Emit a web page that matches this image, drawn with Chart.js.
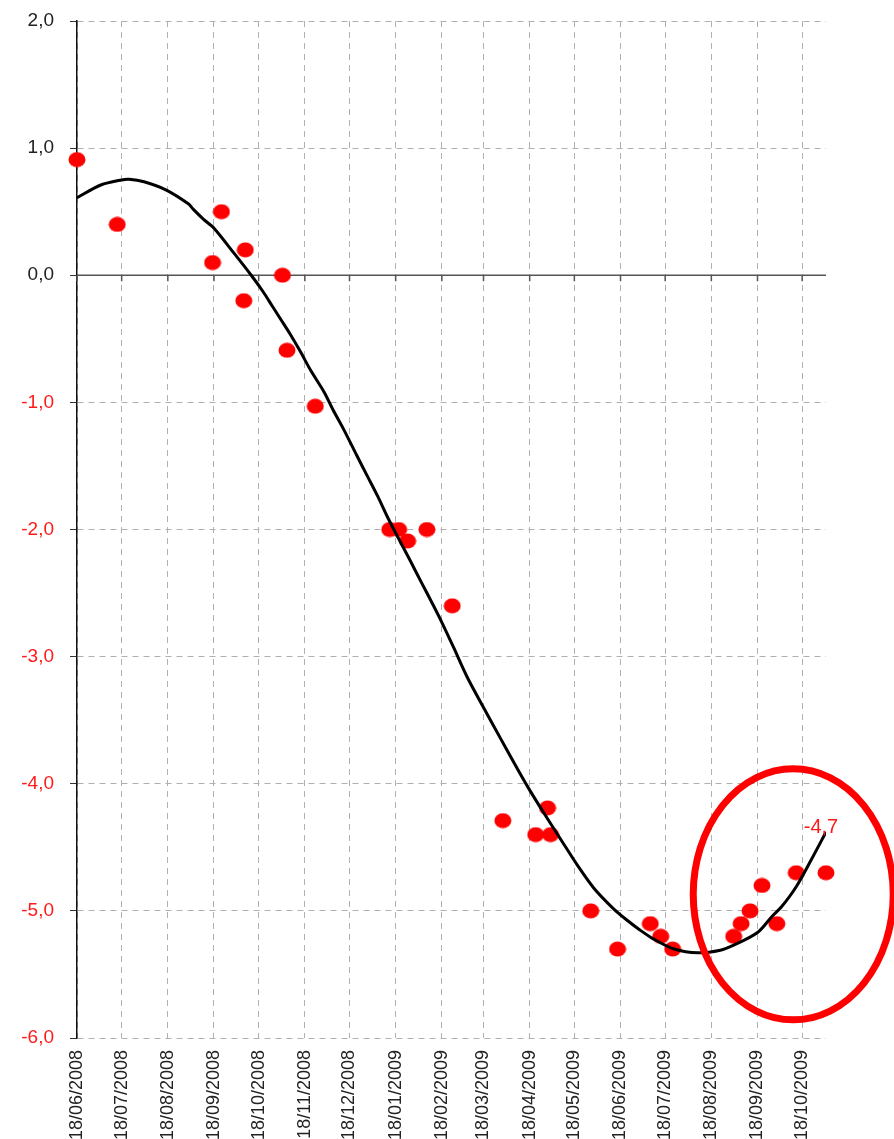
<!DOCTYPE html>
<html>
<head>
<meta charset="utf-8">
<script src="https://cdn.jsdelivr.net/npm/chart.js@4.4.1/dist/chart.umd.min.js"></script>
<style>
  html, body { margin: 0; padding: 0; background: #fff; overflow: hidden; }
  canvas { display: block; }
</style>
</head>
<body>
<canvas id="chart" width="894" height="1139"></canvas>
<script>
// tick labels on the date axis (18th of each month)
var tickLabels = ['18/06/2008', '18/07/2008', '18/08/2008', '18/09/2008', '18/10/2008', '18/11/2008',
    '18/12/2008', '18/01/2009', '18/02/2009', '18/03/2009', '18/04/2009', '18/05/2009',
    '18/06/2009', '18/07/2009', '18/08/2009', '18/09/2009', '18/10/2009'];

// red observations
var pointDates = ['18/06/2008', '15/07/2008', '17/09/2008', '23/09/2008', '08/10/2008', '09/10/2008',
    '03/11/2008', '06/11/2008', '25/11/2008', '14/01/2009', '20/01/2009', '26/01/2009',
    '08/02/2009', '25/02/2009', '31/03/2009', '22/04/2009', '30/04/2009', '02/05/2009',
    '29/05/2009', '16/06/2009', '08/07/2009', '15/07/2009', '23/07/2009', '02/09/2009',
    '07/09/2009', '13/09/2009', '21/09/2009', '01/10/2009', '14/10/2009', '03/11/2009'];
var pointValues = [0.91, 0.40, 0.10, 0.50, -0.20, 0.20,
    0.0, -0.59, -1.03, -2.0, -2.0, -2.09,
    -2.0, -2.6, -4.29, -4.4, -4.19, -4.4,
    -5.0, -5.3, -5.1, -5.2, -5.3, -5.2,
    -5.1, -5.0, -4.8, -5.1, -4.7, -4.7];

// black trend curve
var trendDates = ['18/06/2008', '04/07/2008', '18/07/2008', '23/07/2008', '02/08/2008', '17/08/2008',
    '01/09/2008', '04/09/2008', '11/09/2008', '18/09/2008', '01/10/2008', '13/10/2008',
    '21/10/2008', '27/10/2008', '02/11/2008', '08/11/2008', '15/11/2008', '22/11/2008',
    '01/12/2008', '07/12/2008', '14/12/2008', '23/12/2008', '30/12/2008', '06/01/2009',
    '12/01/2009', '19/01/2009', '28/01/2009', '04/02/2009', '12/02/2009', '18/02/2009',
    '26/02/2009', '07/03/2009', '18/03/2009', '25/03/2009', '03/04/2009', '12/04/2009',
    '18/04/2009', '27/04/2009', '09/05/2009', '20/05/2009', '31/05/2009', '13/06/2009',
    '22/06/2009', '01/07/2009', '10/07/2009', '24/07/2009', '09/08/2009', '24/08/2009',
    '02/09/2009', '18/09/2009', '28/09/2009', '04/10/2009', '14/10/2009', '24/10/2009',
    '03/11/2009'];
var trendValues = [0.61, 0.71, 0.75, 0.755, 0.735, 0.67,
    0.56, 0.52, 0.44, 0.37, 0.18, 0.0,
    -0.13, -0.24, -0.35, -0.46, -0.60, -0.75,
    -0.92, -1.06, -1.21, -1.42, -1.58, -1.74,
    -1.89, -2.05, -2.25, -2.41, -2.59, -2.73,
    -2.93, -3.16, -3.40, -3.55, -3.74, -3.93,
    -4.05, -4.22, -4.44, -4.64, -4.82, -4.98,
    -5.07, -5.15, -5.22, -5.30, -5.33, -5.31,
    -5.27, -5.17, -5.04, -4.97, -4.81, -4.60,
    -4.38];

var lastLabel = '-4,7';
var circleDate = '12/10/2009';
var circleValue = -4.87;

function toDay(s) {
    var p = s.split('/');
    return Date.UTC(+p[2], +p[1] - 1, +p[0]) / 86400000;
}

function pairs(dates, values) {
    return dates.map(function (d, i) { return { x: toDay(d), y: values[i] }; });
}

Chart.defaults.font.family = '"Liberation Sans", Arial, sans-serif';

// slightly oval red marker
var dot = document.createElement('canvas');
dot.width = 18;
dot.height = 16;
var dctx = dot.getContext('2d');
dctx.fillStyle = '#ff0000';
dctx.beginPath();
dctx.ellipse(9, 8, 8.5, 7.5, 0, 0, 2 * Math.PI);
dctx.fill();

var extras = {
    id: 'extras',
    beforeDatasetsDraw: function (chart) {
        var ctx = chart.ctx, x = chart.scales.x, y = chart.scales.y;
        var y0 = y.getPixelForValue(0);
        ctx.save();
        ctx.strokeStyle = '#555';
        ctx.lineWidth = 1.5;
        ctx.beginPath();
        ctx.moveTo(chart.chartArea.left, y0);
        ctx.lineTo(chart.chartArea.right, y0);
        tickLabels.forEach(function (t) {
            var px = x.getPixelForValue(toDay(t));
            ctx.moveTo(px, y0);
            ctx.lineTo(px, y0 + 6);
        });
        ctx.stroke();
        ctx.restore();
    },
    afterDatasetsDraw: function (chart) {
        var ctx = chart.ctx, x = chart.scales.x, y = chart.scales.y;
        var n = trendDates.length - 1;
        var ex = x.getPixelForValue(toDay(trendDates[n]));
        var ey = y.getPixelForValue(trendValues[n]);
        ctx.save();
        ctx.fillStyle = '#ff1a1a';
        ctx.font = '20px "Liberation Sans", Arial, sans-serif';
        ctx.textAlign = 'center';
        ctx.textBaseline = 'alphabetic';
        ctx.fillText(lastLabel, ex - 5, ey + 1);

        ctx.strokeStyle = '#ff0000';
        ctx.lineWidth = 7;
        ctx.beginPath();
        ctx.ellipse(x.getPixelForValue(toDay(circleDate)), y.getPixelForValue(circleValue),
            100, 125.5, 0, 0, 2 * Math.PI);
        ctx.stroke();
        ctx.restore();
    }
};

var ctx = document.getElementById('chart').getContext('2d');
var chart = new Chart(ctx, {
    type: 'scatter',
    data: {
        datasets: [
            {
                type: 'line',
                data: pairs(trendDates, trendValues),
                borderColor: '#000',
                borderWidth: 3,
                pointRadius: 0,
                tension: 0.3,
                fill: false,
                order: 0
            },
            {
                type: 'scatter',
                data: pairs(pointDates, pointValues),
                pointStyle: dot,
                pointRadius: 8,
                clip: false,
                order: 1
            }
        ]
    },
    options: {
        responsive: false,
        animation: false,
        layout: { padding: { top: 21, right: 68, left: 0, bottom: 0 } },
        plugins: {
            legend: { display: false },
            tooltip: { enabled: false }
        },
        scales: {
            x: {
                type: 'linear',
                min: toDay(tickLabels[0]),
                max: toDay(pointDates[pointDates.length - 1]),
                afterBuildTicks: function (scale) {
                    scale.ticks = tickLabels.map(function (t) { return { value: toDay(t) }; });
                },
                afterFit: function (scale) {
                    scale.height = 101;
                    scale.paddingLeft = 0;
                    scale.paddingRight = 0;
                },
                ticks: {
                    autoSkip: false,
                    maxRotation: 90,
                    minRotation: 90,
                    padding: 12,
                    color: '#222',
                    font: { size: 18 },
                    callback: function (value, index) { return tickLabels[index]; }
                },
                grid: { color: '#b0b0b0', lineWidth: 1, drawTicks: false },
                border: { display: false, dash: [6, 5] }
            },
            y: {
                min: -6,
                max: 2,
                afterFit: function (scale) {
                    scale.width = 77;
                    scale.paddingTop = 0;
                    scale.paddingBottom = 0;
                },
                ticks: {
                    stepSize: 1,
                    padding: 16,
                    font: { size: 19 },
                    color: function (c) { return c.tick && c.tick.value < 0 ? '#ff1a1a' : '#222'; },
                    callback: function (value) { return value.toFixed(1).replace('.', ','); }
                },
                grid: { color: '#b0b0b0', lineWidth: 1, tickLength: 7, tickColor: '#333', tickBorderDash: [] },
                border: { display: true, color: '#111', width: 1.5, dash: [6, 5] }
            }
        }
    },
    plugins: [extras]
});
</script>
</body>
</html>
